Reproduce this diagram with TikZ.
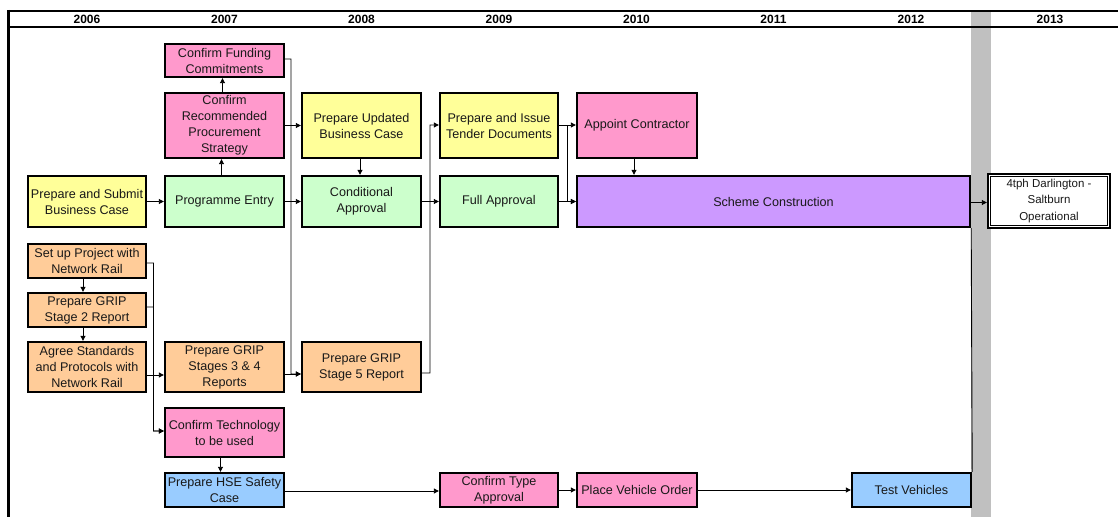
\documentclass[tikz,border=0pt]{standalone}
\usepackage{fontspec}
\setmainfont{Liberation Sans}
\usetikzlibrary{arrows.meta,calc}

\definecolor{cyellow}{HTML}{FFFF99}
\definecolor{cpink}{HTML}{FF99CC}
\definecolor{cgreen}{HTML}{CCFFCC}
\definecolor{cpeach}{HTML}{FFCC99}
\definecolor{cpurple}{HTML}{CC99FF}
\definecolor{cblue}{HTML}{99CCFF}
\definecolor{cband}{HTML}{C0C0C0}

\tikzset{
  task/.style={draw=black, line width=2.4bp, align=center, inner sep=0pt,
    font=\fontsize{12.6bp}{16bp}\selectfont, text=black!90},
  flow/.style={line width=0.9bp, -{Triangle[length=5bp,width=5bp]}},
  link/.style={line width=0.9bp},
  year/.style={font=\fontsize{12bp}{14bp}\selectfont\bfseries},
  frameline/.style={line width=2bp},
}

\begin{document}
\begin{tikzpicture}[x=1bp,y=-1bp]
\useasboundingbox (0,0) rectangle (1118,517);

% milestone band and timeline frame
\fill[cband] (971,11) rectangle (991,517);
\draw[frameline] (8,11) -- (1118,11);
\draw[frameline] (8,27.5) -- (1118,27.5);
\draw[line width=2.5bp] (8.3,10) -- (8.3,517);

% year headings
\foreach \yr/\xc in {2006/87,2007/224.5,2008/361.5,2009/499,2010/636.5,2011/773.5,2012/911,2013/1050}
  \node[year] (y\yr) at (\xc,19.5) {\yr};

% funding and procurement
\node[task, fill=cpink, minimum width=119bp, minimum height=33bp] (fund) at (224.5,60.5) {Confirm Funding\\Commitments};
\node[task, fill=cpink, minimum width=119bp, minimum height=65bp] (recproc) at (224.5,125.5) {Confirm\\Recommended\\Procurement\\Strategy};
\node[task, fill=cyellow, minimum width=119bp, minimum height=65bp] (upd) at (361.5,125.5) {Prepare Updated\\Business Case};
\node[task, fill=cyellow, minimum width=118bp, minimum height=65bp] (tender) at (499,125.5) {Prepare and Issue\\Tender Documents};
\node[task, fill=cpink, minimum width=120bp, minimum height=65bp] (appoint) at (637,125.5) {Appoint Contractor};

% approvals and construction
\node[task, fill=cyellow, minimum width=118bp, minimum height=51bp] (submit) at (87,201.5) {Prepare and Submit\\Business Case};
\node[task, fill=cgreen, minimum width=119bp, minimum height=51bp] (entry) at (224.5,201.5) {Programme Entry};
\node[task, fill=cgreen, minimum width=119bp, minimum height=51bp] (cond) at (361.5,201.5) {Conditional\\Approval};
\node[task, fill=cgreen, minimum width=118bp, minimum height=51bp] (full) at (499,201.5) {Full Approval};
\node[task, fill=cpurple, minimum width=393bp, minimum height=51bp] (scheme) at (773.5,201.5) {Scheme Construction};
\node[task, fill=white, minimum width=122bp, minimum height=54bp,
  font=\fontsize{11.5bp}{16.5bp}\selectfont] (ops) at (1049,201) {4tph Darlington -\\Saltburn\\Operational};
\draw[line width=0.9bp] ([shift={(3.6bp,-3.6bp)}]ops.north west) rectangle ([shift={(-3.6bp,3.6bp)}]ops.south east);

% Network Rail workstream
\node[task, fill=cpeach, minimum width=118bp, minimum height=34bp] (setup) at (87,261) {Set up Project with\\Network Rail};
\node[task, fill=cpeach, minimum width=118bp, minimum height=34bp] (grip2) at (87,310) {Prepare GRIP\\Stage 2 Report};
\node[task, fill=cpeach, minimum width=118bp, minimum height=50bp] (agree) at (87,367) {Agree Standards\\and Protocols with\\Network Rail};
\node[task, fill=cpeach, minimum width=119bp, minimum height=50bp] (grip34) at (224.5,367) {Prepare GRIP\\Stages 3 \& 4\\Reports};
\node[task, fill=cpeach, minimum width=119bp, minimum height=50bp] (grip5) at (361.5,367) {Prepare GRIP\\Stage 5 Report};

% vehicle workstream
\node[task, fill=cpink, minimum width=119bp, minimum height=49bp] (tech) at (224.5,432.5) {Confirm Technology\\to be used};
\node[task, fill=cblue, minimum width=119bp, minimum height=34bp] (hse) at (224.5,490) {Prepare HSE Safety\\Case};
\node[task, fill=cpink, minimum width=118bp, minimum height=34bp] (type) at (499,490) {Confirm Type\\Approval};
\node[task, fill=cpink, minimum width=120bp, minimum height=34bp] (order) at (637,490) {Place Vehicle Order};
\node[task, fill=cblue, minimum width=119bp, minimum height=34bp] (test) at (911.5,490) {Test Vehicles};

% connectors
\draw[flow] ([xshift=-3bp]entry.north) -- ([xshift=-3bp]recproc.south);
\draw[flow] ([xshift=-2bp]recproc.north) -- ([xshift=-2bp]fund.south);
\draw[flow] (recproc.east) -- (upd.west);
\draw[flow] ([yshift=1.5bp]fund.east) -- (291,59) |- ([yshift=-7bp]grip5.west);
\draw[flow] ([yshift=-7bp]grip34.east) -- ([yshift=-7bp]grip5.west);
\draw[flow] (submit.east) -- (entry.west);
\draw[flow] (entry.east) -- (cond.west);
\draw[flow] ([xshift=-1.5bp]upd.south) -- ([xshift=-1.5bp]cond.north);
\draw[flow] (cond.east) -- (full.west);
\draw[flow] ([yshift=-6bp]grip5.east) -- (430,373) |- ([yshift=0.5bp]tender.west);
\draw[flow] ([yshift=0.5bp]tender.east) -- ([yshift=0.5bp]appoint.west);
\draw[flow] ([yshift=0.5bp]tender.east) -- (567.5,125) |- (scheme.west);
\draw[flow] (full.east) -- (scheme.west);
\draw[flow] ([xshift=-3bp]appoint.south) -- ([xshift=-3bp]appoint.south |- scheme.north);
\draw[flow] ([yshift=-1bp]scheme.east) -- ([yshift=-1.5bp]ops.west);
\draw[link] (test.north east) -- (scheme.south east);

\draw[flow] ([xshift=-4bp]setup.south) -- ([xshift=-4bp]grip2.north);
\draw[flow] ([xshift=-4bp]grip2.south) -- ([xshift=-4bp]agree.north);
\draw[flow] ([yshift=-2bp]setup.east) -- (153.5,263) |- ([yshift=1.5bp]tech.west);
\draw[flow] ([yshift=3bp]grip2.east) -- (153.5,307) |- ([yshift=1.5bp]tech.west);
\draw[flow] ([yshift=-8bp]agree.east) -- ([yshift=-8bp]grip34.west);
\draw[flow] ([xshift=-4bp]tech.south) -- ([xshift=-4bp]hse.north);
\draw[flow] ([yshift=-1bp]hse.east) -- ([yshift=-1bp]type.west);
\draw[flow] (type.east) -- (order.west);
\draw[flow] (order.east) -- (test.west);
\end{tikzpicture}
\end{document}
